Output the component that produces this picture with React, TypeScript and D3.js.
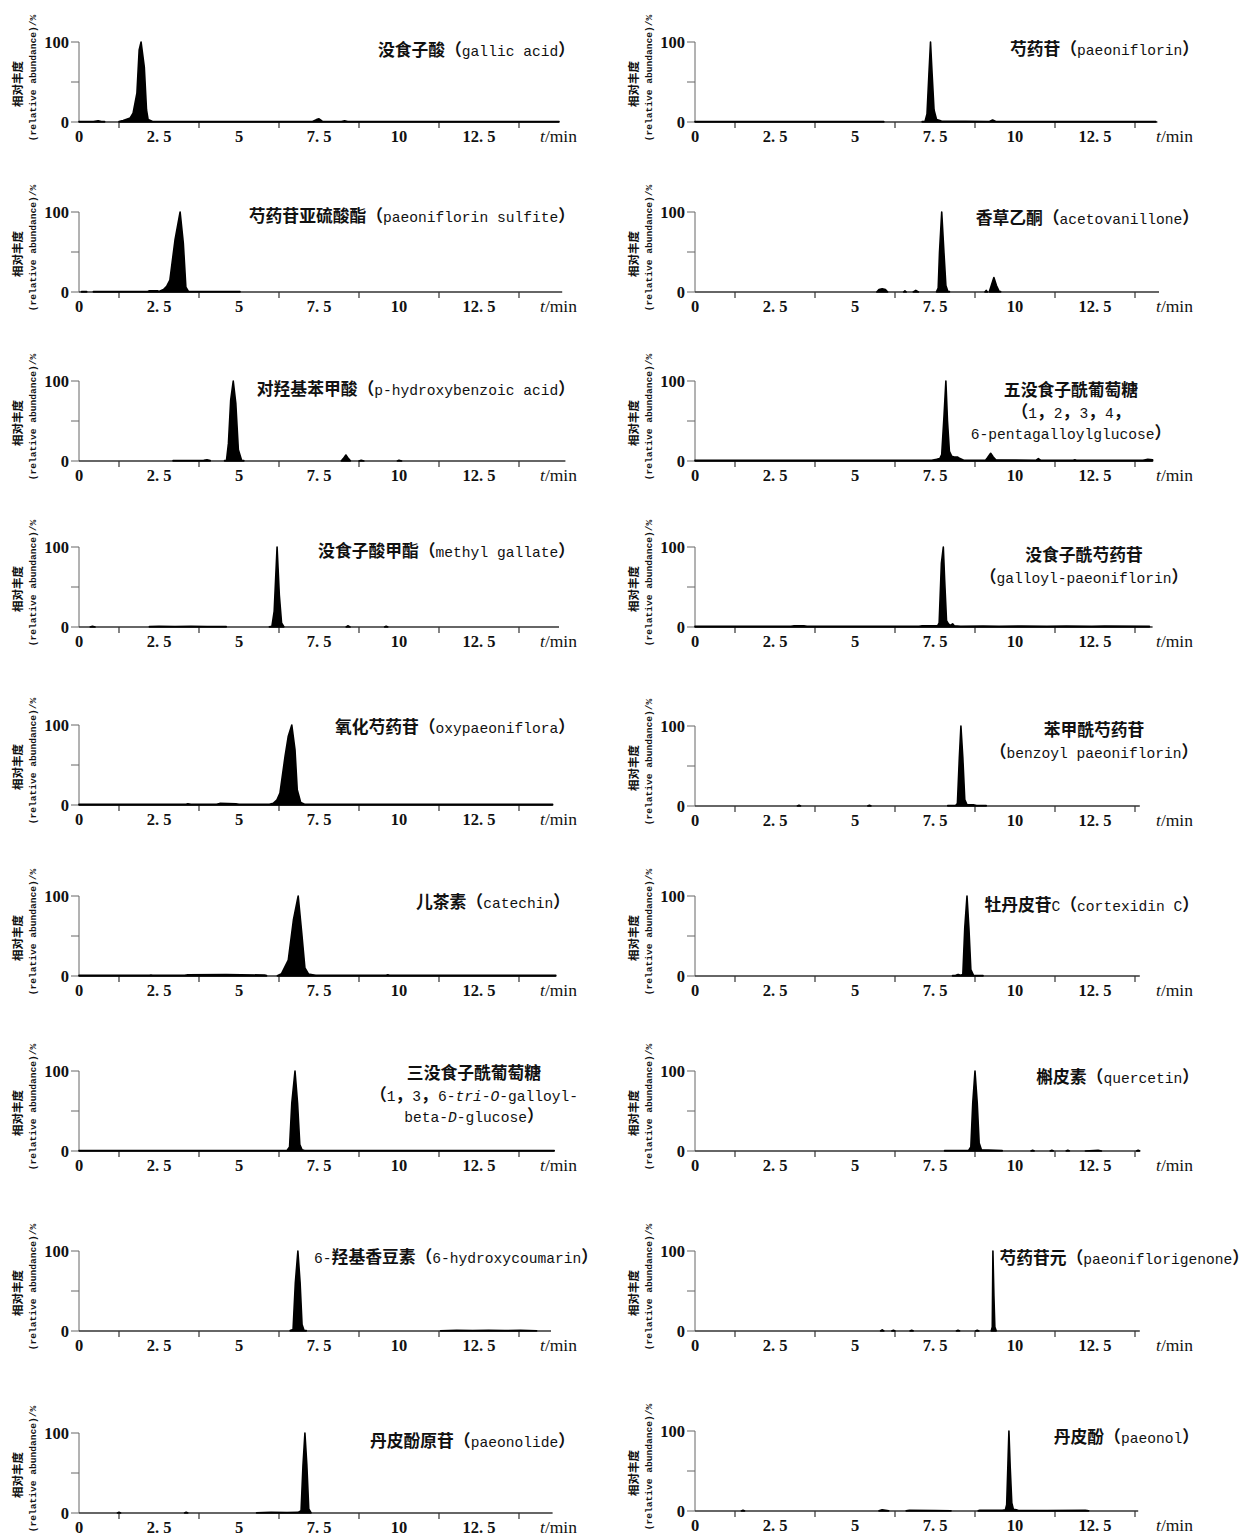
import * as d3 from 'd3';
import React from 'react';

type Pt = [number, number];

// retention time (min), relative abundance (%) — one array per continuous stretch of trace
const gallicAcid: Pt[][] = [
  [[0, 0.5], [0.45, 0.5], [0.6, 1.5], [0.7, 0.5], [0.8, 0.5]],
  [[1.25, 0.5], [1.38, 2], [1.6, 5], [1.69, 11], [1.81, 36], [1.88, 90], [1.94, 100], [2.04, 69], [2.11, 15], [2.16, 3], [2.3, 0.6],
   [7.3, 0.6], [7.42, 3], [7.5, 4], [7.6, 1], [8.2, 0.6], [8.3, 1.5], [8.4, 0.6], [15, 0.6]],
];
const paeoniflorin: Pt[][] = [
  [[0, 0.5], [5.9, 0.5]],
  [[7.1, 0.5], [7.19, 1], [7.25, 10], [7.31, 60], [7.36, 100], [7.41, 60], [7.47, 15], [7.55, 3], [7.7, 1.2],
   [9.2, 0.6], [9.3, 2.5], [9.4, 0.6], [14.4, 0.5]],
];
const paeoniflorinSulfite: Pt[][] = [
  [[0.08, 0.5], [0.24, 0.5]],
  [[0.45, 0.5], [2.15, 0.6], [2.2, 1.5], [2.45, 1.5], [2.5, 0.6], [2.64, 3], [2.74, 7], [2.84, 15], [3.0, 65], [3.16, 100],
   [3.26, 61], [3.34, 6], [3.42, 0.6], [5.03, 0.5]],
];
const acetovanillone: Pt[][] = [
  [[5.68, 0], [5.75, 3], [5.85, 4], [5.95, 3], [6.02, 0]],
  [[6.52, 0], [6.56, 1.5], [6.6, 0]],
  [[6.82, 0], [6.9, 2], [6.98, 0]],
  [[7.55, 0.5], [7.6, 5], [7.64, 49], [7.71, 100], [7.78, 49], [7.84, 8], [7.9, 1], [7.95, 0.5]],
  [[9.06, 0], [9.1, 2], [9.14, 0]],
  [[9.2, 0.5], [9.26, 8], [9.34, 18], [9.42, 8], [9.5, 1], [9.55, 0.5]],
];
const hydroxybenzoicAcid: Pt[][] = [
  [[2.94, 0.5], [3.9, 0.8], [4.0, 1.5], [4.1, 0.6]],
  [[4.55, 0.5], [4.61, 1], [4.67, 22], [4.74, 76], [4.82, 100], [4.9, 72], [4.98, 14], [5.08, 1], [5.15, 0.5]],
  [[8.2, 0.3], [8.26, 3], [8.34, 7.5], [8.42, 3], [8.48, 0.3]],
  [[8.75, 0], [8.82, 1], [8.9, 0]],
  [[9.95, 0], [10.0, 1], [10.08, 0]],
];
const pentagalloylglucose: Pt[][] = [
  [[0, 0.8], [7.4, 0.8], [7.55, 2], [7.65, 3], [7.71, 8], [7.78, 55], [7.84, 100], [7.89, 50], [7.95, 12], [8.02, 6], [8.1, 5],
   [8.2, 5], [8.28, 3], [8.4, 1], [9.08, 1], [9.14, 4], [9.24, 9.6], [9.32, 5], [9.4, 1.5], [10.65, 0.8], [10.73, 3], [10.81, 0.8],
   [11.82, 0.8], [11.87, 1.5], [11.92, 0.8], [14.0, 0.8], [14.15, 2], [14.3, 1.5]],
];
const methylGallate: Pt[][] = [
  [[0.35, 0], [0.42, 1], [0.5, 0]],
  [[2.2, 0.5], [2.5, 1], [3.0, 0.6], [3.5, 1], [4.0, 0.6], [4.6, 0.5]],
  [[5.95, 0.3], [6.03, 1], [6.1, 20], [6.19, 100], [6.26, 40], [6.33, 5], [6.4, 0.5]],
  [[8.35, 0], [8.4, 1.5], [8.47, 0]],
  [[9.55, 0], [9.6, 1], [9.65, 0]],
];
const galloylPaeoniflorin: Pt[][] = [
  [[0, 0.8], [3.0, 0.8], [3.1, 1.5], [3.4, 1.5], [3.5, 0.8], [7.0, 0.8], [7.1, 1.5], [7.45, 1.5], [7.58, 1.5], [7.63, 5],
   [7.7, 80], [7.76, 100], [7.8, 60], [7.86, 8], [7.92, 4], [7.98, 2], [8.05, 4], [8.1, 1.5], [8.3, 0.8], [9.0, 1.2], [9.5, 0.8],
   [10.2, 1.2], [11.0, 0.8], [11.6, 1.2], [12.4, 0.8], [12.8, 1.2], [14.2, 0.8]],
];
const oxypaeoniflora: Pt[][] = [
  [[0, 0.8], [3.35, 0.8], [3.4, 1.5], [3.5, 0.8], [4.3, 0.8], [4.4, 2], [4.9, 1.5], [5.0, 0.8], [5.95, 0.8], [6.07, 2],
   [6.18, 6], [6.28, 15], [6.44, 61], [6.54, 86], [6.65, 100], [6.75, 69], [6.82, 19], [6.93, 3], [7.05, 1], [14.8, 0.8]],
];
const catechin: Pt[][] = [
  [[0, 0.8], [2.2, 0.8], [2.25, 1.2], [2.3, 0.8], [3.3, 0.8], [3.4, 1.5], [4.6, 1.8], [5.8, 1.2], [5.86, 0.5]],
  [[6.2, 0.5], [6.33, 3], [6.54, 20], [6.7, 70], [6.85, 100], [6.96, 54], [7.06, 10], [7.17, 2.5], [7.3, 1.5], [7.4, 0.8],
   [9.6, 0.8], [9.65, 1.5], [9.7, 0.8], [14.9, 0.8]],
];
const benzoylPaeoniflorin: Pt[][] = [
  [[3.2, 0], [3.25, 1], [3.3, 0]],
  [[5.4, 0], [5.45, 1], [5.5, 0]],
  [[7.9, 0.5], [8.15, 0.8], [8.2, 3], [8.26, 60], [8.31, 100], [8.37, 60], [8.43, 8], [8.5, 1.5], [8.7, 1.5], [8.8, 0.5], [9.1, 0.5]],
];
const cortexidinC: Pt[][] = [
  [[8.05, 0.5], [8.15, 1], [8.22, 2], [8.3, 0.8], [8.37, 2], [8.43, 60], [8.5, 100], [8.56, 60], [8.62, 8], [8.7, 1], [9.0, 0.5]],
];
const triGalloylGlucose: Pt[][] = [
  [[0, 0.7], [6.5, 0.7], [6.58, 5], [6.65, 60], [6.75, 100], [6.83, 60], [6.9, 8], [6.97, 1.5], [7.05, 0.7], [14.85, 0.7]],
];
const quercetin: Pt[][] = [
  [[7.8, 0.5], [8.55, 0.8], [8.62, 5], [8.68, 60], [8.75, 100], [8.82, 60], [8.88, 10], [8.95, 1.5], [9.6, 0.5]],
  [[10.5, 0], [10.55, 1], [10.6, 0]],
  [[11.1, 0], [11.15, 1], [11.2, 0]],
  [[11.6, 0], [11.65, 1], [11.7, 0]],
  [[12.2, 0], [12.6, 0.8], [12.7, 0]],
  [[13.8, 0], [13.85, 1], [13.9, 0]],
];
const hydroxycoumarin: Pt[][] = [
  [[6.6, 0.5], [6.69, 2], [6.76, 60], [6.84, 100], [6.91, 60], [6.97, 8], [7.03, 1], [7.1, 0.5]],
  [[11.3, 0.3], [11.8, 0.8], [12.3, 0.5], [12.8, 1], [13.3, 0.5], [13.8, 0.8], [14.3, 0.4]],
];
const paeoniflorigenone: Pt[][] = [
  [[5.8, 0], [5.85, 1.5], [5.9, 0]],
  [[6.15, 0], [6.2, 1], [6.25, 0]],
  [[6.72, 0], [6.77, 1], [6.82, 0]],
  [[8.17, 0], [8.22, 1], [8.27, 0]],
  [[8.77, 0], [8.82, 0.8], [8.87, 0]],
  [[9.26, 0.5], [9.29, 5], [9.31, 100], [9.34, 45], [9.37, 5], [9.41, 0.5]],
];
const paeonolide: Pt[][] = [
  [[1.2, 0], [1.25, 0.8], [1.3, 0]],
  [[3.3, 0], [3.35, 1], [3.4, 0]],
  [[5.55, 0.3], [6.0, 0.8], [6.5, 0.5], [6.85, 0.8], [6.94, 3], [7.0, 60], [7.06, 100], [7.12, 60], [7.18, 5], [7.25, 0.5]],
];
const paeonol: Pt[][] = [
  [[1.45, 0], [1.5, 1], [1.55, 0]],
  [[5.75, 0.3], [5.85, 1.5], [5.95, 1], [6.05, 0.3]],
  [[6.6, 0.3], [6.7, 1], [7.5, 0.5], [8.0, 0.3]],
  [[8.85, 0.3], [8.9, 1], [9.6, 1], [9.7, 1.5], [9.74, 8], [9.78, 60], [9.81, 100], [9.85, 55], [9.9, 10], [9.95, 2],
   [10.1, 1], [11.0, 0.5], [12.2, 0.8], [12.3, 0.3]],
];

// compound names (underscores mark italic runs)
const leftLabels: string[][] = [
  ['没食子酸（gallic acid）'],
  ['芍药苷亚硫酸酯（paeoniflorin sulfite）'],
  ['对羟基苯甲酸（p-hydroxybenzoic acid）'],
  ['没食子酸甲酯（methyl gallate）'],
  ['氧化芍药苷（oxypaeoniflora）'],
  ['儿茶素（catechin）'],
  ['三没食子酰葡萄糖', '（1，3，6-_tri_-_O_-galloyl-', 'beta-_D_-glucose）'],
  ['6-羟基香豆素（6-hydroxycoumarin）'],
  ['丹皮酚原苷（paeonolide）'],
];
const rightLabels: string[][] = [
  ['芍药苷（paeoniflorin）'],
  ['香草乙酮（acetovanillone）'],
  ['五没食子酰葡萄糖', '（1，2，3，4，', '6-pentagalloylglucose）'],
  ['没食子酰芍药苷', '（galloyl-paeoniflorin）'],
  ['苯甲酰芍药苷', '（benzoyl paeoniflorin）'],
  ['牡丹皮苷C（cortexidin C）'],
  ['槲皮素（quercetin）'],
  ['芍药苷元（paeoniflorigenone）'],
  ['丹皮酚（paeonol）'],
];
const leftTraces = [gallicAcid, paeoniflorinSulfite, hydroxybenzoicAcid, methylGallate, oxypaeoniflora, catechin,
  triGalloylGlucose, hydroxycoumarin, paeonolide];
const rightTraces = [paeoniflorin, acetovanillone, pentagalloylglucose, galloylPaeoniflorin, benzoylPaeoniflorin,
  cortexidinC, quercetin, paeoniflorigenone, paeonol];

const xTickValues = [0, 2.5, 5, 7.5, 10, 12.5];
const xTickLabels = ['0', '2.5', '5', '7.5', '10', '12.5'];
const xMinorTicks = [1.25, 3.75, 6.25, 8.75, 11.25, 13.75];
const yTickValues = [0, 50, 100];
const yTickLabels = ['0', '', '100'];

// layout
const W = 1250, H = 1537;
const PX_PER_MIN = 32;
const PLOT_H = 80;
const colX0 = [79, 695];
const leftY0 = [122, 292, 461, 627, 805, 976, 1151, 1331, 1513];
const rightY0 = [122, 292, 461, 627, 806, 976, 1151, 1331, 1511];
const leftAxisEnd = [15.0, 15.1, 15.2, 15.0, 14.8, 14.9, 14.85, 14.75, 14.8];
const rightAxisEnd = [14.45, 14.5, 14.3, 14.3, 13.9, 13.9, 13.9, 13.9, 13.85];
// label placement: [x, first baseline offset from top, anchor]
const leftLabelPos: [number, number, string][] = [
  [575, 14, 'end'], [575, 10, 'end'], [575, 14, 'end'], [575, 10, 'end'], [575, 8, 'end'],
  [570, 12, 'end'], [474, 8, 'middle'], [598, 12, 'end'], [575, 14, 'end'],
];
const rightLabelPos: [number, number, string][] = [
  [1199, 13, 'end'], [1199, 12, 'end'], [1071, 15, 'middle'], [1084, 14, 'middle'], [1094, 10, 'middle'],
  [1199, 15, 'end'], [1199, 12, 'end'], [1249, 13, 'end'], [1199, 12, 'end'],
];

const MONO = "'Liberation Mono', 'Noto Sans CJK SC', monospace";
const CJK = "'Noto Sans CJK SC', 'Liberation Mono', sans-serif";
const SERIF = "'Liberation Serif', 'DejaVu Serif', serif";

function richText(line: string) {
  const parts = line.split('_');
  const out: React.ReactNode[] = [];
  parts.forEach((p, i) => {
    const runs = p.match(/[\u3000-\u9fff\uff00-\uffef]+|[^\u3000-\u9fff\uff00-\uffef]+/g) || [];
    runs.forEach((r, j) => {
      const cjk = /[\u3000-\u9fff\uff00-\uffef]/.test(r);
      out.push(
        <tspan key={i + '-' + j} fontFamily={cjk ? CJK : MONO} fontWeight={cjk ? 700 : 400}
          fontSize={cjk ? 16.8 : 14.6} fontStyle={i % 2 === 1 ? 'italic' : 'normal'}>{r}</tspan>
      );
    });
  });
  return out;
}

function Panel({ ox, oy, axisEnd, trace, label, pos }:
  { ox: number; oy: number; axisEnd: number; trace: Pt[][]; label: string[]; pos: [number, number, string] }) {
  const x = d3.scaleLinear().domain([0, 15]).range([ox, ox + 15 * PX_PER_MIN]);
  const y = d3.scaleLinear().domain([0, 100]).range([oy, oy - PLOT_H]);
  const area = d3.area<Pt>().x(d => x(d[0])).y0(oy).y1(d => y(d[1]));
  const top = y(100);
  const midY = (oy + top) / 2;
  return (
    <g>
      {/* y axis title */}
      <text transform={`translate(${ox - 57},${midY + 2}) rotate(-90)`} textAnchor="middle"
        fontFamily={CJK} fontWeight={700} fontSize={11.5} fill="#111">相对丰度</text>
      <text transform={`translate(${ox - 43},${midY - 4}) rotate(-90)`} textAnchor="middle"
        fontFamily={MONO} fontWeight={700} fontSize={9.6} fill="#111">(relative abundance)/%</text>
      {/* y axis */}
      <line x1={ox} x2={ox} y1={oy} y2={top} stroke="#666" strokeWidth={1} />
      {yTickValues.map((v, i) => (
        <g key={'y' + v}>
          <line x1={ox - 8} x2={ox} y1={y(v)} y2={y(v)} stroke="#666" strokeWidth={1} />
          {yTickLabels[i] && (
            <text x={ox - 10} y={y(v) + 5.5} textAnchor="end" fontFamily={SERIF} fontWeight={700}
              fontSize={16.5} fill="#111">{yTickLabels[i]}</text>
          )}
        </g>
      ))}
      {/* x axis */}
      <line x1={ox} x2={x(axisEnd)} y1={oy} y2={oy} stroke="#333" strokeWidth={1.3} />
      {xMinorTicks.filter(t => t < axisEnd).map(t => (
        <line key={'m' + t} x1={x(t)} x2={x(t)} y1={oy} y2={oy + 6} stroke="#333" strokeWidth={1.2} />
      ))}
      {xTickValues.map((t, i) => (
        <text key={'x' + t} x={x(t)} y={oy + 20} textAnchor="middle" fontFamily={SERIF} fontWeight={700}
          fontSize={16.5} fill="#111">{xTickLabels[i].replace('.', '. ')}</text>
      ))}
      <text x={ox + 461} y={oy + 20} fontFamily={SERIF} fontSize={17.5} fill="#111">
        <tspan fontStyle="italic">t</tspan>/min
      </text>
      {/* trace */}
      {trace.map((seg, i) => (
        <path key={'s' + i} d={area(seg) || ''} fill="#000" stroke="#000" strokeWidth={1.6} strokeLinejoin="round" />
      ))}
      {/* compound name */}
      {label.map((line, i) => (
        <text key={'l' + i} x={pos[0]} y={top + pos[1] + i * 21.5} textAnchor={pos[2] as any}
          fill="#111">{richText(line)}</text>
      ))}
    </g>
  );
}

export default function App() {
  return (
    <svg width={W} height={H} style={{ position: 'absolute', left: 0, top: 0, background: '#fff' }}>
      <rect width={W} height={H} fill="#fff" />
      {leftTraces.map((tr, i) => (
        <Panel key={'L' + i} ox={colX0[0]} oy={leftY0[i]} axisEnd={leftAxisEnd[i]} trace={tr}
          label={leftLabels[i]} pos={leftLabelPos[i]} />
      ))}
      {rightTraces.map((tr, i) => (
        <Panel key={'R' + i} ox={colX0[1]} oy={rightY0[i]} axisEnd={rightAxisEnd[i]} trace={tr}
          label={rightLabels[i]} pos={rightLabelPos[i]} />
      ))}
    </svg>
  );
}
